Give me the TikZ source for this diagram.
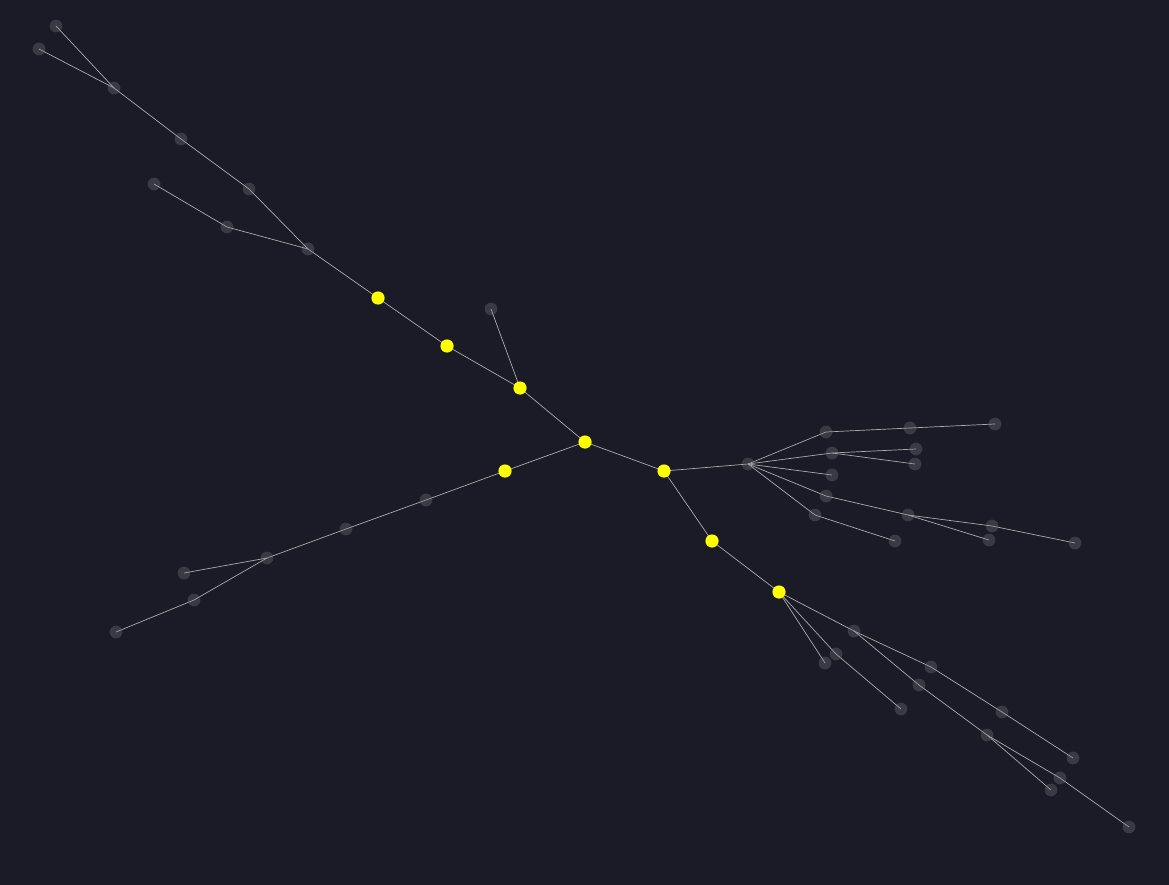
\documentclass[tikz,border=0pt]{standalone}
\usetikzlibrary{backgrounds}
\definecolor{bgc}{RGB}{27,27,39}
\definecolor{edgec}{RGB}{170,170,172}
\definecolor{greyn}{RGB}{130,130,140}
\definecolor{hot}{RGB}{255,255,0}
\pgfdeclarelayer{edges}
\pgfsetlayers{background,edges,main}
\tikzset{
  gn/.style={circle,inner sep=0pt,minimum size=12.8pt,fill=greyn,fill opacity=0.3,draw=none},
  yn/.style={circle,inner sep=0pt,minimum size=13.2pt,fill=hot,draw=none},
  ed/.style={draw=edgec,line width=0.7pt}
}
\begin{document}
\begin{tikzpicture}[x=1pt,y=-1pt]
\begin{pgfonlayer}{background}
\fill[bgc] (0,0) rectangle (1169,885);
\end{pgfonlayer}
\useasboundingbox (0,0) rectangle (1169,885);
% grey nodes
\node[gn] (A1) at (56,26) {};
\node[gn] (A2) at (39,49) {};
\node[gn] (B) at (114,88) {};
\node[gn] (C) at (181,139) {};
\node[gn] (D) at (249,189) {};
\node[gn] (E) at (154,184) {};
\node[gn] (F) at (227,227) {};
\node[gn] (G) at (308,249) {};
\node[gn] (H) at (491,309) {};
\node[gn] (I) at (426,500) {};
\node[gn] (J) at (346,529) {};
\node[gn] (K) at (267,558) {};
\node[gn] (L) at (184,573) {};
\node[gn] (M) at (194,600) {};
\node[gn] (N) at (116,632) {};
\node[gn] (R) at (748,464) {};
\node[gn] (S1) at (826,432) {};
\node[gn] (S2) at (910,428) {};
\node[gn] (S3) at (995,424) {};
\node[gn] (T) at (832,453) {};
\node[gn] (T1) at (916,449) {};
\node[gn] (T2) at (915,464) {};
\node[gn] (U) at (832,475) {};
\node[gn] (V) at (826,496) {};
\node[gn] (V1) at (908,515) {};
\node[gn] (V2) at (992,526) {};
\node[gn] (V3) at (1075,543) {};
\node[gn] (V4) at (989,540) {};
\node[gn] (W) at (815,515) {};
\node[gn] (W1) at (895,541) {};
\node[gn] (X1) at (854,631) {};
\node[gn] (X2) at (836,654) {};
\node[gn] (X3) at (825,663) {};
\node[gn] (X4) at (931,667) {};
\node[gn] (X5) at (919,685) {};
\node[gn] (X6) at (901,709) {};
\node[gn] (X7) at (1002,712) {};
\node[gn] (X8) at (987,735) {};
\node[gn] (X9) at (1073,758) {};
\node[gn] (X10) at (1060,778) {};
\node[gn] (X11) at (1051,790) {};
\node[gn] (X12) at (1129,827) {};
% yellow nodes
\node[yn] (Y1) at (378,298) {};
\node[yn] (Y2) at (447,346) {};
\node[yn] (Y3) at (520,388) {};
\node[yn] (Y4) at (585,442) {};
\node[yn] (Y5) at (505,471) {};
\node[yn] (Y6) at (664,471) {};
\node[yn] (Y7) at (712,541) {};
\node[yn] (Y8) at (779,592) {};
\begin{pgfonlayer}{edges}
\foreach \a/\b in {A1/B,A2/B,B/C,C/D,D/G,E/F,F/G,G/Y1,Y1/Y2,Y2/Y3,H/Y3,Y3/Y4,Y4/Y5,Y4/Y6,
  Y5/I,I/J,J/K,K/L,K/M,M/N,
  Y6/R,R/S1,S1/S2,S2/S3,R/T,T/T1,T/T2,R/U,R/V,V/V1,V1/V2,V2/V3,V1/V4,R/W,W/W1,
  Y6/Y7,Y7/Y8,Y8/X1,X1/X4,X4/X7,X7/X9,X1/X5,X5/X8,X8/X10,X10/X12,X8/X11,Y8/X2,X2/X6,Y8/X3}
  \draw[ed] (\a.center) -- (\b.center);
\end{pgfonlayer}
\end{tikzpicture}
\end{document}
